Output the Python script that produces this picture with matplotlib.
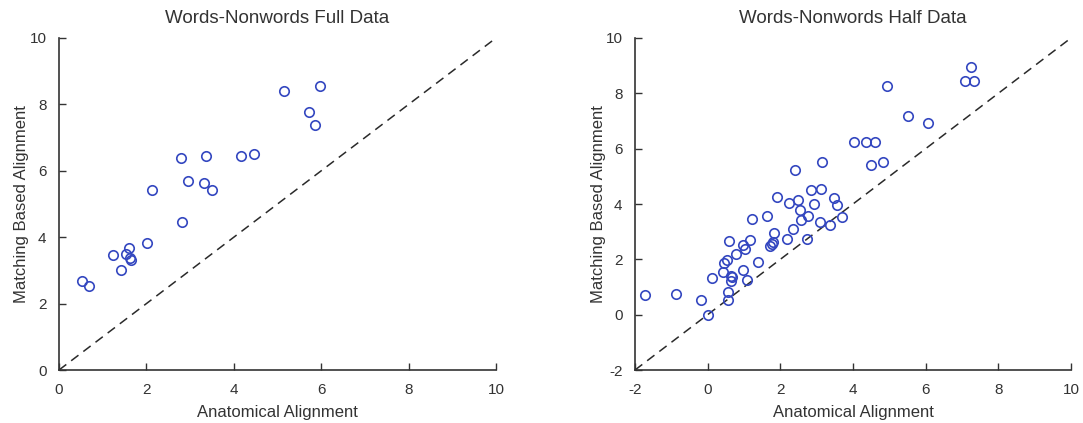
import numpy as np
import matplotlib.pyplot as plt

plt.rcParams['font.family'] = ['Liberation Sans', 'DejaVu Sans']
plt.rcParams['axes.unicode_minus'] = False

# left panel: full data
full_anat = [0.53, 0.69, 1.24, 1.41, 1.53, 1.60, 1.63, 1.64, 2.02, 2.13, 2.82,
             2.80, 2.95, 3.37, 3.31, 3.50, 4.17, 4.47, 5.15, 5.72, 5.86, 5.97]
full_match = [2.69, 2.53, 3.46, 3.00, 3.50, 3.66, 3.38, 3.30, 3.83, 5.43, 4.47,
              6.40, 5.68, 6.45, 5.64, 5.43, 6.45, 6.52, 8.41, 7.78, 7.37, 8.54]

# right panel: half data
half_anat = [-1.72, -0.87, -0.19, 0.00, 0.11, 0.41, 0.46, 0.52, 0.59, 0.55, 0.55,
             0.63, 0.66, 0.64, 0.78, 0.96, 0.98, 1.03, 1.09, 1.17, 1.22, 1.39,
             1.62, 1.72, 1.76, 1.81, 1.83, 1.92, 2.17, 2.24, 2.34, 2.39, 2.50,
             2.53, 2.56, 2.74, 2.75, 2.85, 2.94, 3.10, 3.11, 3.16, 3.36, 3.49,
             3.55, 3.71, 4.03, 4.35, 4.50, 4.61, 4.83, 4.94, 5.52, 6.06, 7.09,
             7.25, 7.32]
half_match = [0.71, 0.76, 0.53, 0.00, 1.31, 1.55, 1.86, 1.96, 2.66, 0.83, 0.53,
              1.41, 1.35, 1.23, 2.18, 1.60, 2.50, 2.38, 1.26, 2.71, 3.47, 1.90,
              3.58, 2.47, 2.54, 2.62, 2.95, 4.25, 2.74, 4.05, 3.09, 5.22, 4.16,
              3.77, 3.42, 2.74, 3.56, 4.50, 4.01, 3.34, 4.54, 5.51, 3.24, 4.21,
              3.96, 3.53, 6.24, 6.24, 5.41, 6.24, 5.51, 8.27, 7.17, 6.91, 8.46,
              8.95, 8.46]

W, H = 1083, 423
fig = plt.figure(figsize=(W/100, H/100), dpi=100, facecolor="white")

panels = [
    ("Words-Nonwords Full Data", full_anat, full_match, (0, 10), [0, 2, 4, 6, 8, 10], (59, 496)),
    ("Words-Nonwords Half Data", half_anat, half_match, (-2, 10), [-2, 0, 2, 4, 6, 8, 10], (635, 1071)),
]
top, bottom = 38, 370
mcol = "#3447c0"
tcol = "#333333"

for title, xs, ys, lim, ticks, (x0, x1) in panels:
    ax = fig.add_axes([x0/W, 1-bottom/H, (x1-x0)/W, (bottom-top)/H])
    ax.plot(lim, lim, ls=(0, (6, 4)), color="#2a2a2a", lw=1.1)
    ax.plot(xs, ys, ls="none", marker="o", ms=6.8, mfc="none", mec=mcol, mew=1.2)
    ax.set_xlim(*lim)
    ax.set_ylim(*lim)
    ax.set_xticks(ticks)
    ax.set_yticks(ticks)
    ax.spines[["top", "right"]].set_visible(False)
    for s in ["left", "bottom"]:
        ax.spines[s].set_linewidth(1.2)
        ax.spines[s].set_color(tcol)
    ax.tick_params(axis="both", which="major", direction="in", length=5, width=1.0,
                   labelsize=11, colors=tcol, pad=9)
    ax.set_title(title, fontsize=13.5, color=tcol, pad=11)
    ax.set_xlabel("Anatomical Alignment", fontsize=12, color=tcol, labelpad=6)
    ax.set_ylabel("Matching Based Alignment", fontsize=12, color=tcol, labelpad=0)

fig.savefig("out.png", dpi=100, facecolor="white")
